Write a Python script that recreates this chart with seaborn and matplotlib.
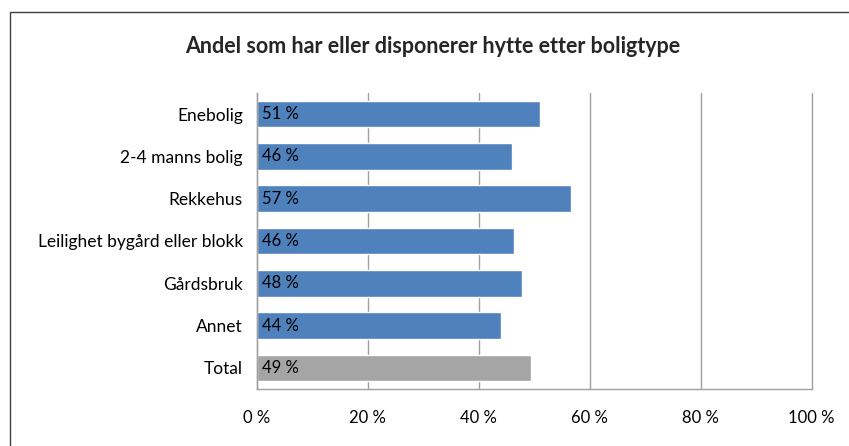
import matplotlib
matplotlib.use("Agg")
import matplotlib.pyplot as plt
import matplotlib.transforms as mtransforms
from matplotlib.patches import Rectangle
import seaborn as sns
import pandas as pd

categories = ["Enebolig", "2-4 manns bolig", "Rekkehus", "Leilighet bygård eller blokk",
              "Gårdsbruk", "Annet", "Total"]
values = [51.0, 46.0, 56.6, 46.4, 47.8, 44.0, 49.4]
labels = ["51 %", "46 %", "57 %", "46 %", "48 %", "44 %", "49 %"]
xticks = [0, 20, 40, 60, 80, 100]

sns.set_style("white")
plt.rcParams['font.family'] = ['Lato', 'DejaVu Sans']

df = pd.DataFrame({"kategori": categories, "andel": values})
colors = {c: "#4F81BD" for c in categories}
colors["Total"] = "#A5A5A5"

fig = plt.figure(figsize=(8.49, 4.46), dpi=100)
ax = fig.add_axes([0.3024, 0.1278, 0.956 - 0.3024, 0.7915 - 0.1278])
sns.barplot(data=df, x="andel", y="kategori", hue="kategori", palette=colors,
            legend=False, width=0.63, saturation=1, ax=ax)

ax.set_xlim(0, 100)
ax.set_xticks(xticks)
ax.set_xticklabels([f"{t} %" for t in xticks], fontsize=12, color="#000000")
ax.tick_params(axis="y", labelsize=12.5, colors="#000000", length=0, pad=10)
ax.tick_params(axis="x", length=0, pad=15)
ax.set_xlabel("")
ax.set_ylabel("")
ax.grid(axis="x", color="#A0A0A0", linewidth=1)
for gl in ax.get_xgridlines():
    gl.set_clip_on(False)
ax.set_axisbelow(True)
for side in ["top", "right"]:
    ax.spines[side].set_visible(False)
for side in ["left", "bottom"]:
    ax.spines[side].set_color("#A0A0A0")
    ax.spines[side].set_linewidth(1)

offset = mtransforms.offset_copy(ax.transData, fig=fig, x=5, y=0, units="dots")
for p, lab in zip(ax.patches, labels):
    ax.text(0, p.get_y() + p.get_height() / 2, lab, transform=offset,
            ha="left", va="center", fontsize=12, color="#000000")

fig.text(0.51, 0.895, "Andel som har eller disponerer hytte etter boligtype",
         ha="center", va="center", fontsize=15.5, fontweight="bold")

fig.patches.append(Rectangle((10 / 849, -0.1), 1.2, 1 - 12 / 446 + 0.1,
                             transform=fig.transFigure, fill=False,
                             edgecolor="#404040", linewidth=1))

fig.savefig("out.png", dpi=100)
